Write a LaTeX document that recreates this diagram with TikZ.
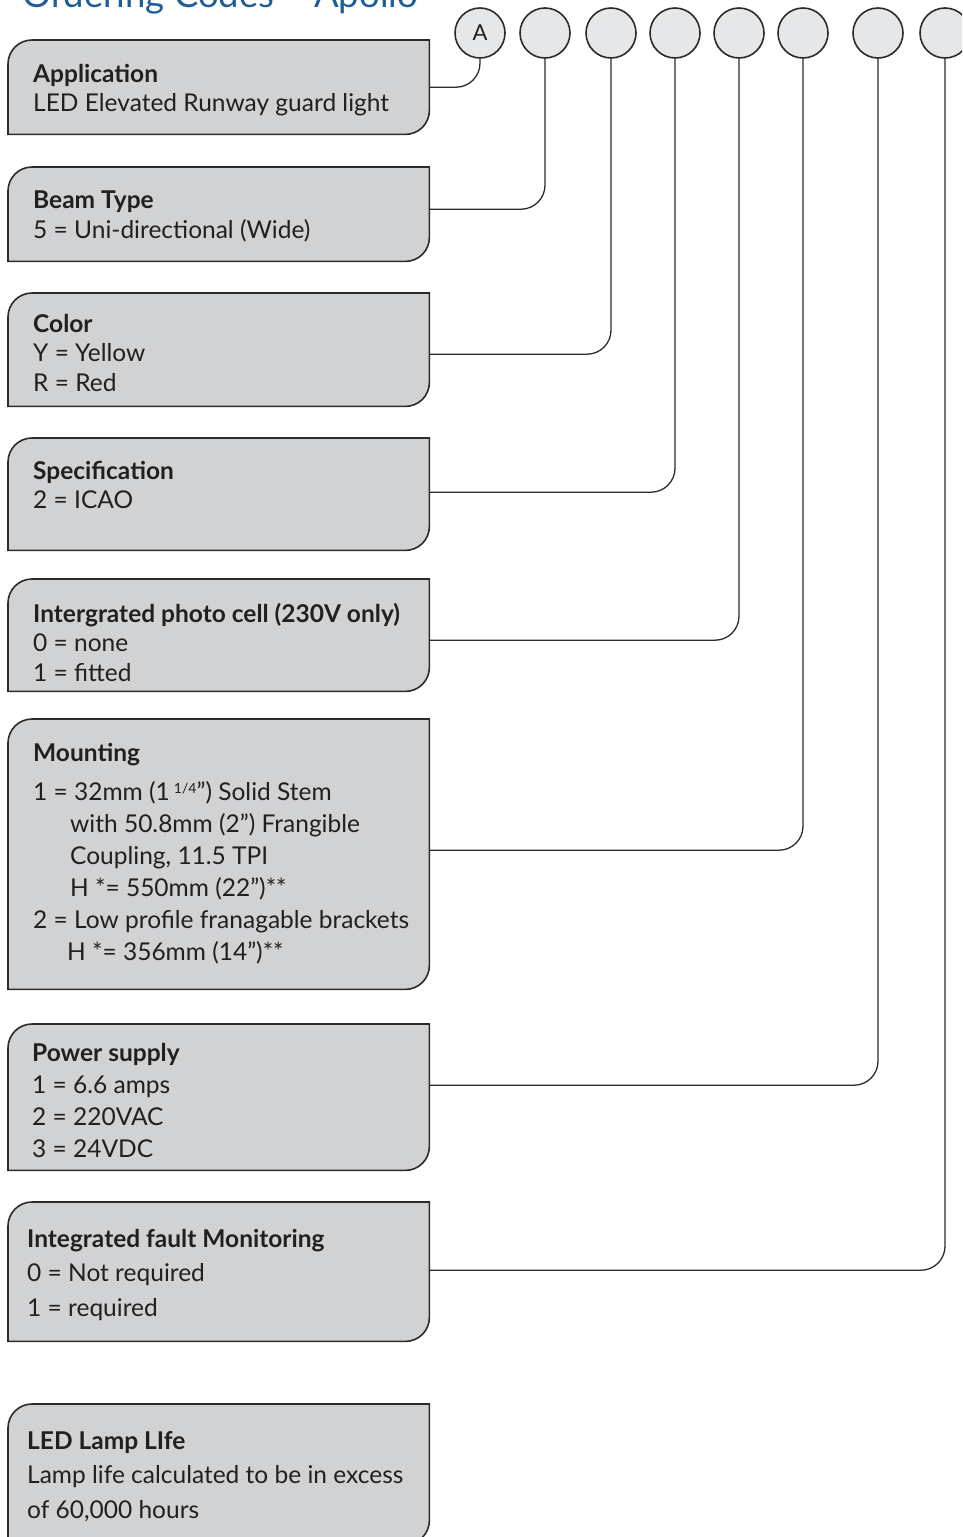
\documentclass[tikz,border=0pt]{standalone}
\usepackage{fontspec}
\setmainfont{Lato}
\usetikzlibrary{calc}
\definecolor{boxgray}{HTML}{D1D2D4}
\definecolor{circlegray}{HTML}{E6E7E8}
\definecolor{linegray}{HTML}{2B2B2B}
\definecolor{textgray}{HTML}{231F20}
\definecolor{titleblue}{HTML}{1F5E95}
\tikzset{
  codebox/.style={minimum width=421pt, inner sep=0pt, anchor=north west},
  boxline/.style={draw=linegray, fill=boxgray, line width=1.6pt},
  boxtext/.style={anchor=north west, align=left, inner sep=0pt, text=textgray, font=\fontsize{24.5}{29.5}\selectfont, execute at begin node={\rule{0pt}{23pt}}},
  codecircle/.style={circle, draw=linegray, fill=circlegray, line width=1.6pt, minimum size=50pt, inner sep=0pt, text=textgray, font=\fontsize{22}{22}\selectfont},
  conn/.style={draw=linegray, line width=1.3pt, rounded corners=24pt},
}
\begin{document}
\begin{tikzpicture}[x=1pt,y=-1pt]
			%%%%% FRAME %%%%%
			\useasboundingbox (0,0) rectangle (962,1537);
			\clip (0,0) rectangle (962,1537);
			
			\node[anchor=base west, inner sep=0pt, text=titleblue, font=\fontsize{36.5}{36.5}\selectfont] (ttl) at (22,7) {Ordering Codes -- Apollo};
			
			%%%%% BOXES %%%%%
			\node[codebox, minimum height=94pt] (app) at (8,40) {};
			\node[codebox, minimum height=94pt] (beam) at (8,167) {};
			\node[codebox, minimum height=113pt] (col) at (8,293) {};
			\node[codebox, minimum height=112pt] (spec) at (8,438) {};
			\node[codebox, minimum height=112pt] (photo) at (8,579) {};
			\node[codebox, minimum height=270pt] (mount) at (8,719) {};
			\node[codebox, minimum height=146pt] (power) at (8,1024) {};
			\node[codebox, minimum height=139pt] (fault) at (8,1202) {};
			\node[codebox, minimum height=140pt] (life) at (8,1404) {};
			
			\foreach \b in {app,beam,col,spec,photo,mount,power,fault,life}
				\draw[boxline] (\b.south west) -- ([yshift=-24pt]\b.north west) arc[start angle=180, end angle=90, radius=24pt] -- (\b.north east) -- ([yshift=24pt]\b.south east) arc[start angle=0, end angle=-90, radius=24pt] -- cycle;
			
			%%%%% TEXTS %%%%%
			\node[boxtext] (app-t) at (33,64) {\textbf{Application}\\LED Elevated Runway guard light};
			\node[boxtext] (beam-t) at (33,191) {\textbf{Beam Type}\\5 = Uni-directional (Wide)};
			\node[boxtext] (col-t) at (33,314) {\textbf{Color}\\Y = Yellow\\R = Red};
			\node[boxtext] (spec-t) at (33,461) {\textbf{Specification}\\2 = ICAO};
			\node[boxtext] (photo-t) at (33,603) {\textbf{Intergrated photo cell (230V only)}\\0 = none\\1 = fitted};
			\node[boxtext, font=\fontsize{24.5}{32}\selectfont] (mount-t) at (33,743) {\textbf{Mounting}\\[7pt]
				1 = 32mm (1\,\raisebox{0.55ex}{\fontsize{14}{14}\selectfont 1/4}") Solid Stem\\
				\hspace*{37pt}with 50.8mm (2") Frangible\\
				\hspace*{37pt}Coupling, 11.5 TPI\\
				\hspace*{37pt}H *= 550mm (22")**\\
				2 = Low profile franagable brackets\\
				\hspace*{34pt}H *= 356mm (14")**};
			\node[boxtext, font=\fontsize{24.5}{32}\selectfont] (power-t) at (32,1043) {\textbf{Power supply}\\1 = 6.6 amps\\2 = 220VAC\\3 = 24VDC};
			\node[boxtext, font=\fontsize{24.5}{34.5}\selectfont] (fault-t) at (27,1229) {\textbf{Integrated fault Monitoring}\\0 = Not required\\1 = required};
			\node[boxtext, font=\fontsize{24.5}{34.5}\selectfont] (life-t) at (27,1431) {\textbf{LED Lamp LIfe}\\Lamp life calculated to be in excess\\of 60,000 hours};
			
			%%%%% CODE CIRCLES %%%%%
			\node[codecircle] (c1) at (480,33) {A};
			\foreach \x [count=\i from 2] in {545,611,675,739,803,878,945}
				\node[codecircle] (c\i) at (\x,33) {};
			
			%%%%% CONNECTORS %%%%%
			\foreach \b/\c/\dy in {app/c1/0, beam/c2/5, col/c3/-4.5, spec/c4/2, photo/c5/-5, mount/c6/4, power/c7/12, fault/c8/1.5}
				\draw[conn] ([yshift=\dy pt]\b.east) -| (\c.south);
			
			%%%%% END %%%%%
\end{tikzpicture}
\end{document}
